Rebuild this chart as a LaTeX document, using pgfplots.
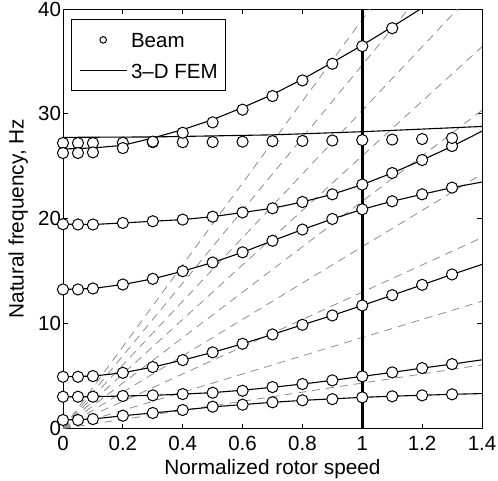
\documentclass[border=0pt]{standalone}
\usepackage{fontspec}
\setmainfont{Liberation Sans}
\usepackage{pgfplots}
\pgfplotsset{compat=1.18}
\definecolor{dgray}{RGB}{140,140,140}
\begin{document}
\begin{tikzpicture}[font=\fontsize{20.5}{24}\selectfont]
\begin{axis}[
  at={(0pt,0pt)}, anchor=south west,
  scale only axis, width=419pt, height=419.5pt,
  xmin=0, xmax=1.4, ymin=0, ymax=40,
  xtick={0,0.2,0.4,0.6,0.8,1,1.2,1.4},
  xticklabels={0,0.2,0.4,0.6,0.8,1,1.2,1.4},
  ytick={0,10,20,30,40},
  yticklabels={0,10,20,30,40},
  /pgf/number format/assume math mode=true,
  tick align=inside, major tick length=5pt,
  axis line style={line width=0.8pt},
  every tick/.style={line width=0.8pt, black},
  tick label style={font=\fontsize{20.5}{24}\selectfont},
  xticklabel style={yshift=-4pt},
  yticklabel style={xshift=1.5pt},
  label style={font=\fontsize{20.8}{24}\selectfont},
  xlabel={Normalized rotor speed},
  ylabel={Natural frequency, Hz},
  xlabel style={at={(axis description cs:0.5,-0.097)}, anchor=center},
  ylabel style={at={(axis description cs:-0.107,0.5)}, anchor=center},
  legend style={at={(axis description cs:0.019,0.975)}, anchor=north west,
    draw=black, line width=0.8pt, fill=white,
    font=\fontsize{20.5}{24}\selectfont,
    inner xsep=8pt, inner ysep=12.5pt, row sep=16pt,
    nodes={inner xsep=0pt, inner ysep=0pt, text height=15pt, text depth=0pt},
    /tikz/every odd column/.append style={column sep=4pt}},
  legend cell align=left,
  legend image code/.code={\draw[mark repeat=2,mark phase=2,#1] plot coordinates {(0pt,0pt) (23.3pt,0pt) (46.6pt,0pt)};},
]
\addlegendimage{only marks, mark=*, mark size=3.3pt, mark options={fill=white, draw=black, line width=1pt}}
\addlegendentry{Beam}
\addlegendimage{black, line width=1.1pt}
\addlegendentry{3--D FEM}

% dashed excitation lines
\addplot[dgray, line width=0.8pt, dash pattern=on 8pt off 6pt, forget plot] coordinates {(0,0) (1.4,6.067)};
\addplot[dgray, line width=0.8pt, dash pattern=on 8pt off 6pt, forget plot] coordinates {(0,0) (1.4,12.133)};
\addplot[dgray, line width=0.8pt, dash pattern=on 8pt off 6pt, forget plot] coordinates {(0,0) (1.4,18.2)};
\addplot[dgray, line width=0.8pt, dash pattern=on 8pt off 6pt, forget plot] coordinates {(0,0) (1.4,24.267)};
\addplot[dgray, line width=0.8pt, dash pattern=on 8pt off 6pt, forget plot] coordinates {(0,0) (1.4,30.333)};
\addplot[dgray, line width=0.8pt, dash pattern=on 8pt off 6pt, forget plot] coordinates {(0,0) (1.4,36.4)};
\addplot[dgray, line width=0.8pt, dash pattern=on 8pt off 6pt, forget plot] coordinates {(0,0) (1.4,42.467)};
\addplot[dgray, line width=0.8pt, dash pattern=on 8pt off 6pt, forget plot] coordinates {(0,0) (1.4,48.533)};
\addplot[dgray, line width=0.8pt, dash pattern=on 8pt off 6pt, forget plot] coordinates {(0,0) (1.4,54.6)};

% FEM lines
\addplot[black, line width=1.1pt, forget plot] coordinates {(0,0.81) (0.1,0.9) (0.2,1.22) (0.3,1.48) (0.4,1.76) (0.5,2.06) (0.6,2.28) (0.7,2.5) (0.8,2.68) (0.9,2.83) (1.0,2.97) (1.1,3.08) (1.2,3.17) (1.3,3.26) (1.4,3.33)};
\addplot[black, line width=1.1pt, forget plot] coordinates {(0,3.03) (0.1,3.03) (0.2,3.1) (0.3,3.16) (0.4,3.28) (0.5,3.42) (0.6,3.65) (0.7,3.93) (0.8,4.24) (0.9,4.59) (1.0,4.97) (1.1,5.35) (1.2,5.76) (1.3,6.14) (1.4,6.55)};
\addplot[black, line width=1.1pt, forget plot] coordinates {(0,4.93) (0.1,5.0) (0.2,5.31) (0.3,5.86) (0.4,6.52) (0.5,7.26) (0.6,8.08) (0.7,8.97) (0.8,9.89) (0.9,10.78) (1.0,11.73) (1.1,12.71) (1.2,13.7) (1.3,14.69) (1.4,15.64)};
\addplot[black, line width=1.1pt, forget plot] coordinates {(0,13.26) (0.1,13.35) (0.2,13.73) (0.3,14.27) (0.4,15.0) (0.5,15.83) (0.6,16.8) (0.7,17.9) (0.8,18.97) (0.9,19.98) (1.0,20.9) (1.1,21.67) (1.2,22.33) (1.3,22.97) (1.4,23.5)};
\addplot[black, line width=1.1pt, forget plot] coordinates {(0,19.48) (0.1,19.45) (0.2,19.6) (0.3,19.76) (0.4,19.92) (0.5,20.2) (0.6,20.6) (0.7,21.0) (0.8,21.6) (0.9,22.33) (1.0,23.26) (1.1,24.36) (1.2,25.6) (1.3,26.9) (1.4,28.35)};
\addplot[black, line width=1.1pt, forget plot] coordinates {(0,27.76) (0.3,27.8) (0.7,28.0) (1.0,28.3) (1.4,28.8)};
\addplot[black, line width=1.1pt, forget plot] coordinates {(0,26.65) (0.1,26.75) (0.2,27.0) (0.3,27.7) (0.4,28.5) (0.5,29.45) (0.6,30.6) (0.7,31.85) (0.8,33.3) (0.9,34.9) (1.0,36.55) (1.1,38.3) (1.2,40.1)};

% Beam circles
\addplot[only marks, mark=*, mark size=5.6pt, mark options={fill=white, draw=black, line width=1pt}, forget plot] coordinates {(0,0.81) (0.05,0.81) (0.1,0.9) (0.2,1.22) (0.3,1.48) (0.4,1.76) (0.5,2.08) (0.6,2.27) (0.7,2.5) (0.8,2.69) (0.9,2.8) (1.0,2.97) (1.1,3.07) (1.2,3.16) (1.3,3.26)};
\addplot[only marks, mark=*, mark size=5.6pt, mark options={fill=white, draw=black, line width=1pt}, forget plot] coordinates {(0,3.03) (0.05,3.03) (0.1,3.03) (0.2,3.1) (0.3,3.16) (0.4,3.28) (0.5,3.41) (0.6,3.6) (0.7,3.95) (0.8,4.24) (0.9,4.59) (1.0,4.97) (1.1,5.35) (1.2,5.76) (1.3,6.14)};
\addplot[only marks, mark=*, mark size=5.6pt, mark options={fill=white, draw=black, line width=1pt}, forget plot] coordinates {(0,4.93) (0.05,4.93) (0.1,5.0) (0.2,5.31) (0.3,5.86) (0.4,6.52) (0.5,7.26) (0.6,8.08) (0.7,8.97) (0.8,9.89) (0.9,10.78) (1.0,11.73) (1.1,12.71) (1.2,13.7) (1.3,14.69)};
\addplot[only marks, mark=*, mark size=5.6pt, mark options={fill=white, draw=black, line width=1pt}, forget plot] coordinates {(0,13.26) (0.05,13.26) (0.1,13.35) (0.2,13.73) (0.3,14.27) (0.4,15.0) (0.5,15.83) (0.6,16.8) (0.7,17.9) (0.8,18.97) (0.9,19.98) (1.0,20.9) (1.1,21.67) (1.2,22.33) (1.3,22.97)};
\addplot[only marks, mark=*, mark size=5.6pt, mark options={fill=white, draw=black, line width=1pt}, forget plot] coordinates {(0,19.48) (0.05,19.45) (0.1,19.45) (0.2,19.6) (0.3,19.76) (0.4,19.92) (0.5,20.2) (0.6,20.6) (0.7,21.0) (0.8,21.6) (0.9,22.33) (1.0,23.26) (1.1,24.36) (1.2,25.6) (1.3,26.93)};
\addplot[only marks, mark=*, mark size=5.6pt, mark options={fill=white, draw=black, line width=1pt}, forget plot] coordinates {(0,27.22) (0.05,27.22) (0.1,27.22) (0.2,27.25) (0.3,27.3) (0.4,27.3) (0.5,27.32) (0.6,27.35) (0.7,27.4) (0.8,27.42) (0.9,27.46) (1.0,27.5) (1.1,27.55) (1.2,27.6) (1.3,27.7)};
\addplot[only marks, mark=*, mark size=5.6pt, mark options={fill=white, draw=black, line width=1pt}, forget plot] coordinates {(0,26.27) (0.05,26.27) (0.1,26.33) (0.2,26.74) (0.3,27.35) (0.4,28.2) (0.5,29.19) (0.6,30.4) (0.7,31.7) (0.8,33.19) (0.9,34.78) (1.0,36.46) (1.1,38.17)};

% rated speed line
\addplot[black, line width=3pt, forget plot] coordinates {(1,0) (1,40)};
\end{axis}
\pgfresetboundingbox
\path[use as bounding box] (-63pt,-51.5pt) rectangle (435pt,428.5pt);
\end{tikzpicture}
\end{document}
